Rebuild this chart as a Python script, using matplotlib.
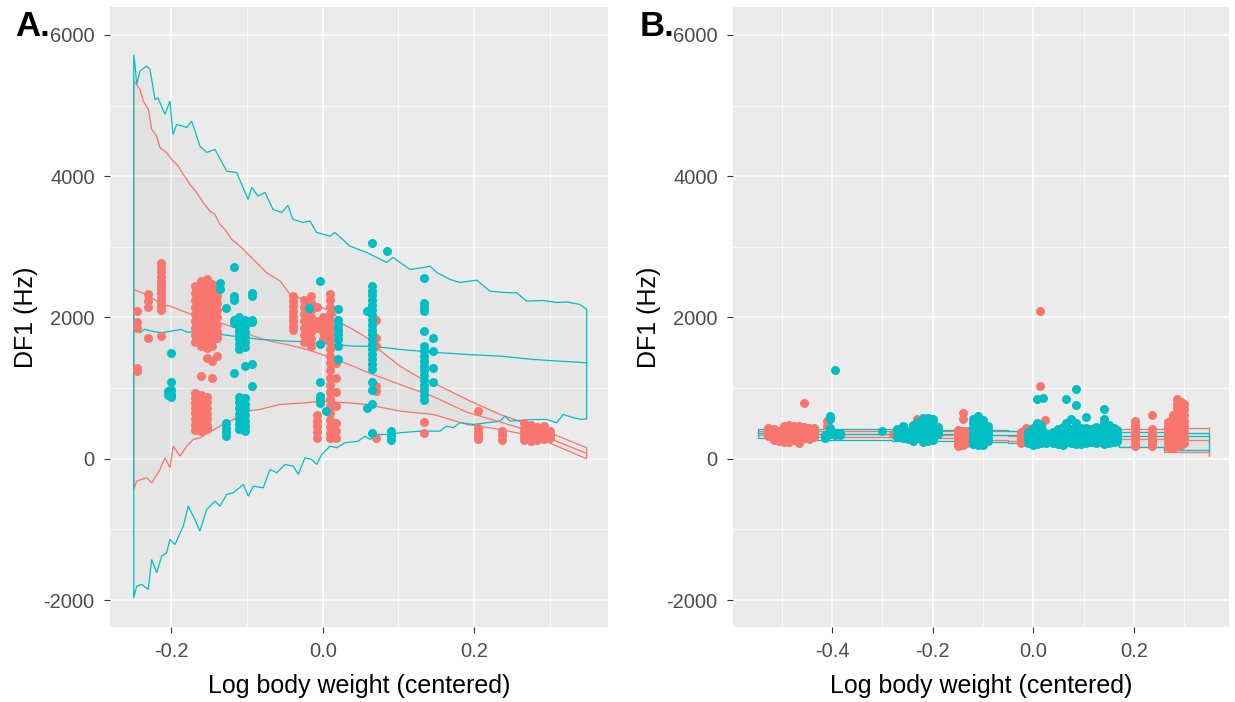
import numpy as np
import matplotlib
matplotlib.use("Agg")
import matplotlib.pyplot as plt
from matplotlib.patches import Polygon

plt.rcParams["font.family"] = ["Liberation Sans", "DejaVu Sans"]
plt.rcParams["axes.unicode_minus"] = False

RED = "#F8766D"
CYAN = "#00BFC4"

# ---------------- Panel A: prediction bands ----------------
a_cyan_up_x = [-0.2493, -0.2476, -0.2454, -0.2410, -0.2322, -0.2278, -0.2212, -0.2173, -0.2081,
               -0.2015, -0.1975, -0.1926, -0.1794, -0.1728, -0.1619, -0.1530, -0.1421, -0.1266,
               -0.1135, -0.0985, -0.0937, -0.0854, -0.0761, -0.0656, -0.0541, -0.0458, -0.0392,
               -0.0260, -0.0168, -0.0079, 0.0096, 0.0162, 0.0360, 0.0580, 0.0844, 0.0927, 0.1152,
               0.1284, 0.1416, 0.1504, 0.1679, 0.1811, 0.2032, 0.2207, 0.2379, 0.2559, 0.2691,
               0.2906, 0.3087, 0.3219, 0.3394, 0.3483]
a_cyan_up_y = [5722, 5583, 5300, 5490, 5560, 5512, 5083, 5111, 4876,
               5064, 4592, 4734, 4691, 4781, 4426, 4336, 4380, 4072,
               4053, 3672, 3842, 3719, 3771, 3530, 3488, 3587, 3389,
               3346, 3365, 3204, 3152, 3204, 3010, 2921, 2780, 2850, 2680,
               2700, 2727, 2638, 2539, 2497, 2529, 2373, 2355, 2350, 2232,
               2241, 2213, 2220, 2185, 2115]
a_cyan_lo_x = [-0.2493, -0.2454, -0.2388, -0.2301, -0.2256, -0.2190, -0.2124, -0.2058, -0.2015,
               -0.1949, -0.1839, -0.1773, -0.1707, -0.1619, -0.1530, -0.1421, -0.1355, -0.1266,
               -0.1179, -0.1047, -0.0982, -0.0916, -0.0784, -0.0695, -0.0607, -0.0497, -0.0388,
               -0.0322, -0.0234, -0.0145, -0.0079, -0.0013, 0.0096, 0.0185, 0.0294, 0.0470,
               0.0558, 0.0624, 0.0712, 0.0888, 0.1020, 0.1284, 0.1548, 0.1636, 0.1723, 0.1811,
               0.1987, 0.2339, 0.2405, 0.2471, 0.2778, 0.2955, 0.3087, 0.3174, 0.3306, 0.3417, 0.3483]
a_cyan_lo_y = [-1968, -1804, -1780, -1851, -1426, -1614, -1379, -1331, -1143,
               -1213, -954, -671, -813, -1025, -718, -600, -671, -506,
               -481, -364, -530, -388, -411, -152, -198, -81, -105,
               -222, 14, -10, -81, 61, 178, 156, 226, 249,
               320, 273, 344, 344, 368, 391, 391, 462, 439, 510,
               486, 532, 603, 532, 556, 556, 510, 627, 581, 556, 566]
a_cyan_mid_x = [-0.2493, -0.2410, -0.2349, -0.2256, -0.2124, -0.2000, -0.1870, -0.1780, -0.1707,
                -0.1350, -0.1180, -0.1000, -0.0830, -0.0660, -0.0480, -0.0300, -0.0120, 0.0140,
                0.0400, 0.0660, 0.0840, 0.1020, 0.1280, 0.1550, 0.1890, 0.2340, 0.2560, 0.2780,
                0.3130, 0.3483]
a_cyan_mid_y = [1855, 1784, 1833, 1807, 1784, 1807, 1831, 1790, 1800,
                1760, 1736, 1713, 1689, 1680, 1665, 1660, 1642, 1618,
                1595, 1590, 1571, 1548, 1524, 1501, 1477, 1453, 1430, 1406,
                1382, 1359]

a_red_up_x = [-0.2493, -0.2410, -0.2366, -0.2300, -0.2256, -0.2190, -0.2146, -0.2058, -0.1992,
              -0.1904, -0.1839, -0.1750, -0.1662, -0.1575, -0.1487, -0.1421, -0.1355, -0.1289,
              -0.1201, -0.1090, -0.0870, -0.0740, -0.0560, -0.0430, -0.0260, -0.0080, 0.0140,
              0.0230, 0.0400, 0.0620, 0.0760, 0.1020, 0.1280, 0.1460, 0.1900, 0.2340, 0.2780, 0.3483]
a_red_up_y = [5347, 5229, 5064, 4946, 4663, 4568, 4404, 4333, 4238,
              4143, 4026, 3884, 3767, 3625, 3506, 3459, 3318, 3247,
              3105, 3010, 2775, 2634, 2515, 2327, 2256, 2161, 2090,
              1926, 1831, 1689, 1530, 1311, 1147, 1075, 840, 627, 462, 156]
a_red_mid_x = [-0.2493, -0.2330, -0.2120, -0.2015, -0.1790, -0.1619, -0.1355, -0.1090, -0.0916,
               -0.0695, -0.0475, -0.0211, 0.0053, 0.0404, 0.0602, 0.1020, 0.1460, 0.1900,
               0.2340, 0.2780, 0.3483]
a_red_mid_y = [2397, 2327, 2185, 2161, 2067, 1997, 1926, 1831, 1736,
               1665, 1618, 1548, 1453, 1311, 1218, 1052, 880, 660,
               520, 380, 75]
a_red_lo_x = [-0.2493, -0.2454, -0.2322, -0.2256, -0.2146, -0.2081, -0.2015, -0.1971, -0.1883,
              -0.1794, -0.1707, -0.1619, -0.1355, -0.1179, -0.1003, -0.0827, -0.0563, -0.0211,
              -0.0036, 0.0316, 0.0580, 0.1020, 0.1460, 0.1900, 0.2340, 0.2780, 0.3483]
a_red_lo_y = [-435, -317, -269, -340, -152, 14, -127, 178, 37,
              178, 273, 297, 462, 556, 674, 698, 769, 793,
              816, 793, 769, 674, 627, 486, 415, 320, 0]

# ---------------- Panel A: observations ----------------
a_red_pts_x = [-0.245, -0.230, -0.213, -0.168, -0.161, -0.153, -0.146, -0.139,
               -0.039, -0.025, -0.015, -0.008, 0.000, 0.010, 0.017,
               0.070, 0.133, 0.205, 0.237, 0.265, 0.275, 0.283, 0.292, 0.300]
a_red_pts_y = [
    [2090, 1930, 1850, 1290, 1240],
    [2330, 2230, 2150, 1710],
    [2770, 2700, 2640, 2580, 2520, 2460, 2400, 2340, 2280, 2220, 2160, 2100, 1740],
    [2450, 2350, 2250, 2150, 2050, 1950, 1850, 1750, 1650, 930, 860, 790, 720, 650, 560, 480, 410],
    [2510, 2420, 2300, 2200, 2100, 2000, 1900, 1800, 1700, 1600, 1170, 900, 820, 740, 660, 590, 520, 440, 390],
    [2540, 2450, 2350, 2250, 2150, 2050, 1950, 1850, 1750, 1650, 1570, 1430, 880, 800, 720, 640, 560, 480, 420],
    [2480, 2380, 2280, 2180, 2080, 1980, 1880, 1780, 1680, 1595, 1380, 1150],
    [2420, 2300, 2200, 2100, 2000, 1900, 1800, 1710, 1450],
    [2300, 2230, 2160, 2090, 2020, 1950, 1880, 1830],
    [2250, 2150, 2050, 1950, 1850, 1750, 1650],
    [2300, 2200, 2100, 2000, 1900, 1800, 1700, 1600],
    [2150, 1950, 1850, 620, 540, 460, 380, 300],
    [2000, 1900, 1800, 1700],
    [2330, 2250, 2150, 2050, 1950, 1850, 1750, 1650, 1550, 1450, 1350, 1250, 1150, 1050, 950,
     850, 750, 650, 550, 450, 370, 290],
    [1350, 1150, 950, 750, 500, 400, 300],
    [1970, 1710, 1600, 1030, 960, 300],
    [520, 370],
    [670, 440, 380, 320, 280],
    [390, 330, 270],
    [500, 440, 380, 320, 270],
    [480, 420, 360, 300, 250],
    [450, 380, 310, 260],
    [460, 400, 340, 280],
    [400, 340, 290],
]
a_cyan_pts_x = [-0.200, -0.204, -0.135, -0.127, -0.117, -0.110, -0.103, -0.093,
                -0.018, -0.003, 0.005, 0.020, 0.058, 0.065, 0.085, 0.090, 0.133, 0.146]
a_cyan_pts_y = [
    [1500, 1080, 980, 910, 880],
    [960, 900],
    [2490, 2400],
    [2140, 510, 440, 380, 320],
    [2720, 2300, 2250, 1970, 1920, 1220],
    [2000, 1950, 1900, 1830, 1760, 1690, 1620, 1550, 880, 800, 720, 640, 560, 490, 420],
    [1960, 1880, 1800, 1730, 1650, 1580, 1310, 860, 780, 700, 620, 540, 460, 400],
    [2350, 2300, 1970, 1930, 1340, 1030],
    [2140],
    [2510, 1620, 1080, 890, 840, 790],
    [670],
    [2120, 1970, 1900, 1830, 1760, 1690, 1600, 1410],
    [2090, 720],
    [3060, 2440, 2380, 2320, 2250, 2180, 2110, 2040, 1970, 1900, 1830, 1760, 1690, 1620, 1550,
     1480, 1410, 1340, 1270, 1080, 980, 770, 370],
    [2940],
    [390, 320, 260],
    [2560, 2210, 2150, 2090, 1810, 1600, 1530, 1460, 1390, 1320, 1250, 1180, 1110, 1040, 970, 900, 830],
    [1710, 1520, 1290, 1080],
]

# ---------------- Panel B: prediction bands (stepped) ----------------
b_x = [-0.548, -0.43, -0.28, -0.15, -0.05, 0.03, 0.10, 0.17, 0.26, 0.35]
b_cyan_up = [424, 420, 412, 405, 400, 395, 388, 380, 370, 368]
b_cyan_mid = [360, 352, 344, 338, 334, 330, 326, 322, 320, 320]
b_cyan_lo = [297, 264, 250, 236, 224, 210, 190, 160, 125, 108]
b_red_up = [400, 398, 396, 396, 398, 402, 410, 420, 432, 445]
b_red_mid = [368, 356, 342, 330, 318, 305, 292, 280, 268, 260]
b_red_lo = [334, 312, 290, 268, 250, 230, 200, 160, 100, 37]

# ---------------- Panel B: observations ----------------
b_red_pts_x = [-0.527, -0.515, -0.505, -0.495, -0.485, -0.475, -0.465, -0.455, -0.445, -0.435,
               -0.410, -0.279, -0.250, -0.232, -0.215, -0.150, -0.140, -0.132,
               -0.025, -0.015, -0.005, 0.013, 0.023, 0.128, 0.134,
               0.203, 0.235, 0.268, 0.277, 0.285, 0.293, 0.300]
b_red_pts_y = [
    [440, 400, 360, 320],
    [420, 380, 340, 300, 270],
    [400, 360, 320, 290, 250],
    [470, 430, 390, 350, 310, 270, 240],
    [480, 440, 400, 360, 320, 280, 240],
    [460, 420, 380, 340, 300, 260],
    [470, 430, 390, 350, 310, 270, 230],
    [790, 450, 410, 370, 330, 290],
    [440, 400, 360, 320, 280],
    [430, 390, 350, 310],
    [530, 460],
    [344],
    [330, 300],
    [556, 420],
    [320, 280],
    [410, 370, 330, 290, 250, 210, 180],
    [650, 556, 400, 360, 320, 280, 240, 200],
    [390, 350, 310, 270, 230],
    [380, 340, 300, 260, 220],
    [440, 400, 360, 320, 280, 240],
    [415, 300],
    [2090, 1028],
    [547],
    [420, 330, 260],
    [400, 350, 300, 273, 240],
    [532, 480, 430, 380, 330, 280, 230, 180],
    [613, 415, 370, 320, 270, 220, 180],
    [520, 460, 400, 340, 280, 220, 170],
    [620, 560, 500, 440, 380, 320, 260, 200, 150],
    [840, 780, 720, 660, 600, 540, 480, 420, 360, 300, 240, 180],
    [800, 740, 680, 620, 560, 500, 440, 380, 320, 260, 200],
    [780, 700, 620, 540, 460, 380, 300, 220],
]
b_cyan_pts_x = [-0.415, -0.405, -0.395, -0.385, -0.300, -0.270, -0.260, -0.250, -0.240, -0.230,
                -0.220, -0.210, -0.200, -0.190, -0.120, -0.110, -0.100, -0.090,
                -0.010, 0.000, 0.007, 0.015, 0.019, 0.026, 0.040, 0.050, 0.060, 0.065,
                0.075, 0.085, 0.095, 0.104, 0.115, 0.125, 0.140, 0.150, 0.160, 0.166]
b_cyan_pts_y = [
    [330, 300],
    [603, 557, 440, 415, 380, 350],
    [1255, 370, 340],
    [368, 330],
    [391],
    [420, 380, 340, 310],
    [470, 430, 390, 350, 320, 290],
    [400, 360, 320, 280],
    [480, 440, 400, 360, 320, 280, 250],
    [520, 470, 420, 380, 340, 300],
    [570, 530, 480, 440, 400, 360, 320, 280, 240],
    [580, 540, 500, 450, 410, 370, 330, 290, 250],
    [560, 510, 460, 410, 360, 310, 270],
    [450, 400, 350],
    [560, 500, 450, 400, 350, 300, 250, 210],
    [600, 540, 480, 430, 380, 330, 280, 230, 190],
    [550, 490, 440, 390, 340, 290, 240, 200],
    [470, 410, 360, 300, 250],
    [380, 340, 300, 260, 220],
    [430, 390, 350, 310, 270, 230, 200],
    [840, 510, 460, 410, 370, 330, 290, 250, 210],
    [480, 430, 380, 340, 300, 260, 220],
    [864, 400, 360, 320, 280, 240],
    [350, 310, 270, 230],
    [380, 340, 300, 260, 220],
    [420, 370, 330, 290, 250, 210],
    [450, 400, 350, 310, 270, 230, 200],
    [840, 510, 460, 410, 360, 320, 280, 240],
    [556, 420, 380, 340, 300, 260, 220],
    [981, 755, 500, 450, 400, 350, 300, 250, 210],
    [430, 380, 330, 290, 250, 210],
    [589, 440, 390, 340, 300, 260, 220],
    [420, 370, 320, 280, 240],
    [450, 400, 350, 300, 260, 220],
    [708, 560, 500, 450, 400, 350, 300, 250, 210],
    [480, 420, 370, 320, 270, 230],
    [430, 380, 330, 280, 240],
    [410, 360, 300, 250],
]

Y_TICKS = [-2000, 0, 2000, 4000, 6000]
Y_MINOR = [-1000, 1000, 3000, 5000]
Y_LIM = (-2382, 6396)


def flatten(xs, ys):
    fx, fy = [], []
    for x, col in zip(xs, ys):
        fx.extend([x] * len(col))
        fy.extend(col)
    return np.array(fx), np.array(fy)


def stepped(x, y):
    sx, sy = [x[0]], [y[0]]
    for i in range(1, len(x)):
        sx += [x[i], x[i]]
        sy += [y[i - 1], y[i]]
    return sx, sy


def band(ax, ux, uy, lx, ly, color):
    verts = list(zip(ux, uy)) + list(zip(lx[::-1], ly[::-1]))
    ax.add_patch(Polygon(verts, closed=True, facecolor=(0, 0, 0, 0.02),
                         edgecolor=color, linewidth=0.9, zorder=2))


def style(ax, xlim, xmaj, xmin):
    ax.set_facecolor("#EBEBEB")
    for s in ax.spines.values():
        s.set_visible(False)
    ax.set_xlim(*xlim)
    ax.set_ylim(*Y_LIM)
    ax.set_xticks(xmaj)
    ax.set_xticks(xmin, minor=True)
    ax.set_xticklabels(["%.1f" % v for v in xmaj])
    ax.set_yticks(Y_TICKS)
    ax.set_yticks(Y_MINOR, minor=True)
    ax.set_yticklabels([str(v) for v in Y_TICKS])
    ax.grid(which="major", color="white", linewidth=1.1, zorder=0)
    ax.grid(which="minor", color="white", linewidth=0.55, zorder=0)
    ax.set_axisbelow(True)
    ax.tick_params(which="major", length=4.5, width=0.8, color="#333333",
                   labelcolor="#4D4D4D", labelsize=14.5, pad=6.5)
    ax.tick_params(which="minor", length=0)
    ax.set_xlabel("Log body weight (centered)", fontsize=18, labelpad=9)
    ax.set_ylabel("DF1 (Hz)", fontsize=18, labelpad=4)


fig = plt.figure(figsize=(12.35, 7.02), dpi=100)
axA = fig.add_axes([110 / 1235, 75 / 702, 498 / 1235, 620 / 702])
axB = fig.add_axes([733 / 1235, 75 / 702, 496 / 1235, 620 / 702])

# Panel A
band(axA, a_red_up_x, a_red_up_y, a_red_lo_x, a_red_lo_y, RED)
axA.plot(a_red_mid_x, a_red_mid_y, color=RED, linewidth=0.9, zorder=3)
band(axA, a_cyan_up_x, a_cyan_up_y, a_cyan_lo_x, a_cyan_lo_y, CYAN)
axA.plot(a_cyan_mid_x, a_cyan_mid_y, color=CYAN, linewidth=0.9, zorder=3)
px, py = flatten(a_red_pts_x, a_red_pts_y)
axA.scatter(px, py, s=42, color=RED, linewidths=0, zorder=4)
px, py = flatten(a_cyan_pts_x, a_cyan_pts_y)
axA.scatter(px, py, s=42, color=CYAN, linewidths=0, zorder=5)
style(axA, (-0.2806, 0.3764), [-0.2, 0.0, 0.2], [-0.1, 0.1, 0.3])

# Panel B
ux, uy = stepped(b_x, b_red_up)
lx, ly = stepped(b_x, b_red_lo)
band(axB, ux, uy, lx, ly, RED)
mx, my = stepped(b_x, b_red_mid)
axB.plot(mx, my, color=RED, linewidth=0.9, zorder=3)
ux, uy = stepped(b_x, b_cyan_up)
lx, ly = stepped(b_x, b_cyan_lo)
band(axB, ux, uy, lx, ly, CYAN)
mx, my = stepped(b_x, b_cyan_mid)
axB.plot(mx, my, color=CYAN, linewidth=0.9, zorder=3)
px, py = flatten(b_red_pts_x, b_red_pts_y)
axB.scatter(px, py, s=42, color=RED, linewidths=0, zorder=4)
px, py = flatten(b_cyan_pts_x, b_cyan_pts_y)
axB.scatter(px, py, s=42, color=CYAN, linewidths=0, zorder=5)
style(axB, (-0.597, 0.389), [-0.4, -0.2, 0.0, 0.2], [-0.5, -0.3, -0.1, 0.1, 0.3])

fig.text(15 / 1235, 1 - 36 / 702, "A.", fontsize=25, fontweight="bold", va="baseline")
fig.text(640 / 1235, 1 - 36 / 702, "B.", fontsize=25, fontweight="bold", va="baseline")

fig.savefig("out.png", dpi=100, facecolor="white")
